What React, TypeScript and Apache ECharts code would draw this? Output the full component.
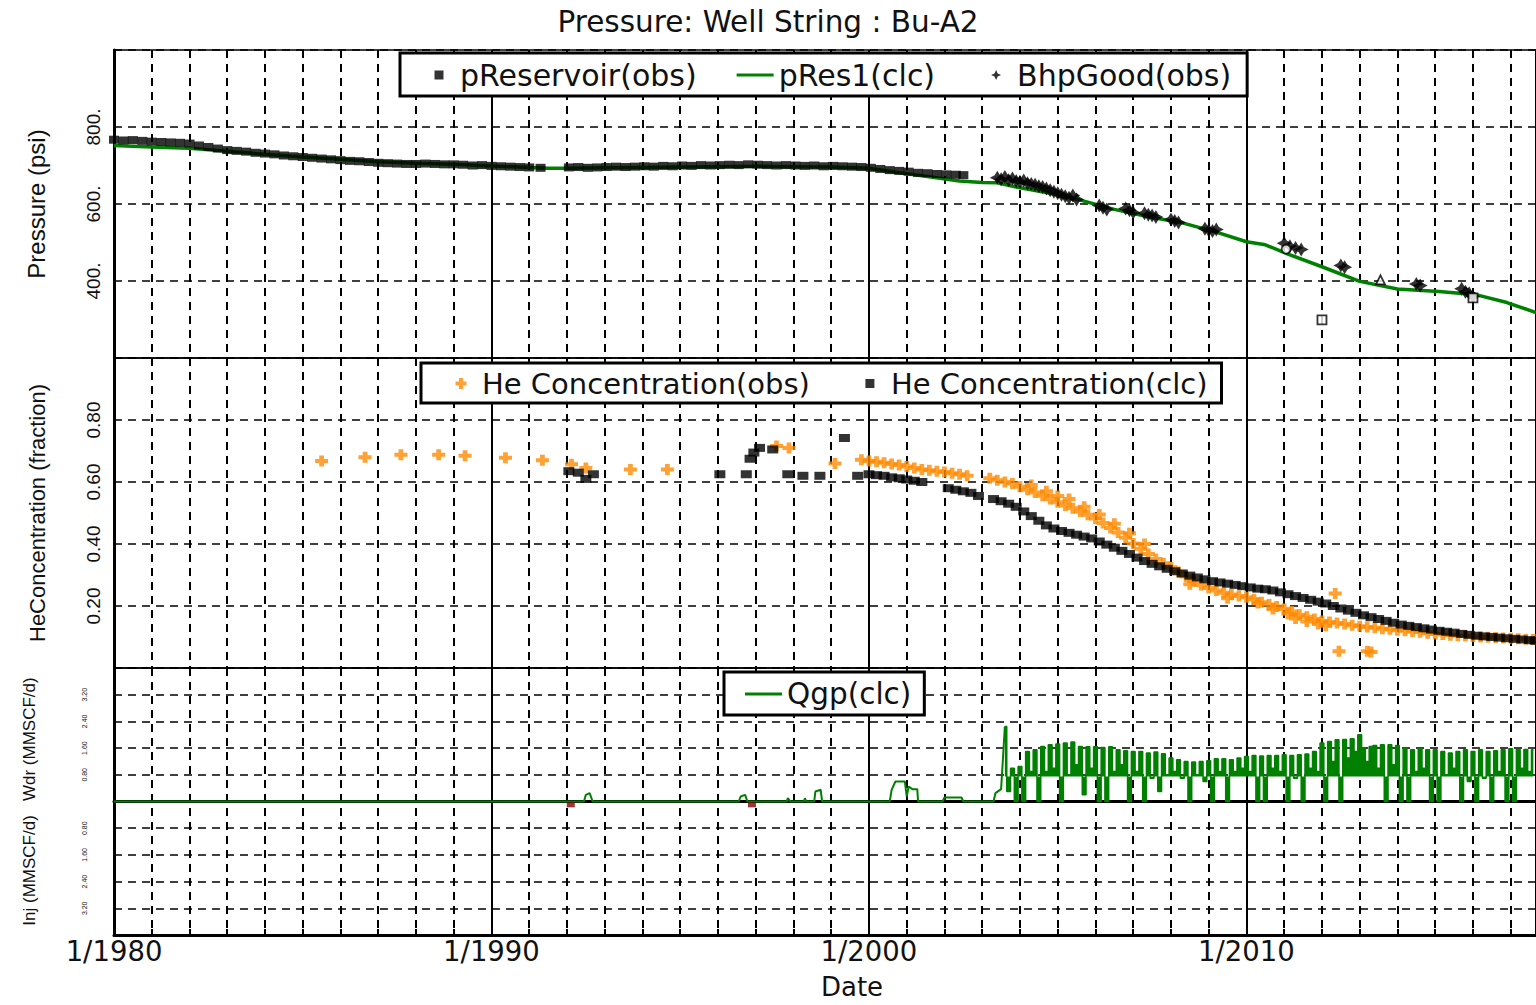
import React, { useEffect, useRef } from "react";
import * as echarts from "echarts";

// ---------- axis ranges & tick labels ----------
const xMin = 1980;
const xMax = 2017.67;
const pressureTicks = [400, 600, 800];
const heTicks = [0.2, 0.4, 0.6, 0.8];
const rateTicks = [0.8, 1.6, 2.4, 3.2];

// ---------- top panel: pressure (psi) ----------
const pReservoirObs = [
  [1980.0, 767], [1980.25, 765], [1980.5, 766], [1980.75, 764], [1981.0, 762], [1981.25, 761], [1981.5, 760], [1981.75, 759],
  [1982.0, 757], [1982.25, 752], [1982.5, 748], [1982.75, 744], [1983.0, 740], [1983.25, 738], [1983.5, 736], [1983.75, 733],
  [1984.0, 731], [1984.25, 729], [1984.5, 726], [1984.75, 724], [1985.0, 722], [1985.25, 720], [1985.5, 718], [1985.75, 716],
  [1986.0, 714], [1986.25, 712], [1986.5, 711], [1986.75, 709], [1987.0, 707], [1987.25, 706], [1987.5, 705], [1987.75, 704],
  [1988.0, 704], [1988.25, 705], [1988.5, 704], [1988.75, 703], [1989.0, 703], [1989.25, 702], [1989.5, 700], [1989.75, 701],
  [1990.0, 699], [1990.25, 698], [1990.5, 697], [1990.75, 696], [1991.0, 695], [1991.3, 694],
  [1992.05, 695], [1992.3, 696], [1992.55, 694], [1992.8, 695], [1993.05, 696], [1993.3, 697], [1993.55, 696], [1993.8, 697],
  [1994.05, 698], [1994.3, 697], [1994.55, 699], [1994.8, 698], [1995.05, 700], [1995.3, 699], [1995.55, 701], [1995.8, 700],
  [1996.05, 701], [1996.3, 702], [1996.55, 701], [1996.8, 703], [1997.05, 702], [1997.3, 701], [1997.55, 700], [1997.8, 701],
  [1998.05, 700], [1998.3, 699], [1998.55, 700], [1998.8, 698], [1999.05, 699], [1999.3, 698], [1999.55, 697], [1999.8, 696],
  [2000.05, 694], [2000.3, 691], [2000.55, 688], [2000.8, 686], [2001.05, 684], [2001.3, 681], [2001.55, 680], [2001.8, 678],
  [2002.05, 677], [2002.3, 676], [2002.5, 675],
];

const pRes1Clc = [
  [1980, 752], [1981, 748], [1982, 745], [1983, 737], [1984, 729], [1985, 722], [1986, 716], [1987, 710], [1988, 706],
  [1989, 703], [1990, 699], [1991, 695], [1991.5, 693], [1992, 693], [1993, 694], [1994, 695], [1995, 696], [1996, 697],
  [1997, 698], [1998, 697], [1999, 696], [2000, 693], [2000.8, 681], [2001.5, 672], [2002.4, 660], [2003.0, 656],
  [2003.4, 655], [2003.9, 644], [2004.8, 628], [2005.6, 610], [2006.5, 586], [2007.4, 567], [2008.3, 551], [2009.2, 527],
  [2010.0, 502], [2010.5, 494], [2011.1, 470], [2012.0, 437], [2013.0, 399], [2014.0, 379], [2015.1, 373], [2016.1, 364],
  [2016.9, 344], [2017.67, 318],
];

const bhpGoodObs = [
  [2003.4, 668], [2003.5, 664], [2003.6, 670], [2003.7, 662], [2003.8, 666], [2003.9, 660], [2004.0, 658], [2004.1, 661],
  [2004.2, 654], [2004.3, 652], [2004.4, 650], [2004.5, 646], [2004.6, 644], [2004.7, 640], [2004.8, 636], [2004.9, 632],
  [2005.0, 628], [2005.1, 624], [2005.2, 620], [2005.3, 616], [2005.4, 622], [2005.5, 612],
  [2006.1, 596], [2006.2, 590], [2006.3, 586], [2006.8, 588], [2006.9, 584], [2007.0, 578], [2007.3, 576], [2007.4, 572],
  [2007.5, 570], [2007.6, 566], [2008.0, 560], [2008.1, 556], [2008.2, 552], [2008.9, 536], [2009.0, 532], [2009.1, 530],
  [2009.2, 534], [2011.0, 498], [2011.15, 490], [2011.3, 486], [2011.45, 482], [2012.5, 440], [2012.6, 436], [2014.5, 392],
  [2014.6, 388], [2015.7, 380], [2015.8, 372], [2015.9, 368], [2016.0, 360],
];

const otherPressureObs = [[2011.05, 483], [2012.0, 299], [2013.55, 403], [2016.0, 356]];
const otherPressureShapes = ["circle", "rect", "triangle", "rect"];

// ---------- middle panel: He concentration (fraction) ----------
const heObs = [
  [1985.5, 0.668], [1986.65, 0.68], [1987.6, 0.688], [1988.6, 0.688], [1989.3, 0.685], [1990.37, 0.678], [1991.35, 0.67],
  [1992.12, 0.657], [1992.5, 0.645], [1993.68, 0.64], [1994.66, 0.64], [1997.55, 0.716], [1997.88, 0.71], [1999.1, 0.66],
  [1999.8, 0.672],
  [2000.0, 0.668], [2000.2, 0.665], [2000.4, 0.662], [2000.6, 0.658], [2000.8, 0.655], [2001.0, 0.65], [2001.2, 0.645],
  [2001.4, 0.64], [2001.6, 0.638], [2001.8, 0.635], [2002.0, 0.632], [2002.2, 0.628], [2002.4, 0.625], [2002.6, 0.62],
  [2003.2, 0.612], [2003.4, 0.606], [2003.6, 0.6], [2003.8, 0.595], [2004.0, 0.585], [2004.2, 0.575], [2004.4, 0.566],
  [2004.6, 0.556], [2004.8, 0.545], [2005.0, 0.535], [2005.2, 0.524], [2005.4, 0.515], [2005.6, 0.505], [2005.8, 0.494],
  [2006.0, 0.482], [2006.2, 0.468], [2006.4, 0.452], [2006.6, 0.437], [2006.8, 0.42], [2007.0, 0.402], [2007.2, 0.385],
  [2007.4, 0.368], [2007.6, 0.352], [2007.8, 0.338], [2008.0, 0.325], [2008.2, 0.31], [2008.4, 0.295], [2008.6, 0.28],
  [2008.8, 0.268], [2009.0, 0.258], [2009.2, 0.25], [2009.4, 0.243], [2009.6, 0.237], [2009.8, 0.232], [2010.0, 0.228],
  [2010.2, 0.222], [2010.4, 0.212], [2010.6, 0.205], [2010.8, 0.198], [2011.0, 0.19], [2011.2, 0.182], [2011.4, 0.172],
  [2011.6, 0.165], [2011.8, 0.158], [2012.0, 0.152], [2012.2, 0.148], [2012.4, 0.145], [2012.6, 0.142], [2012.8, 0.138],
  [2013.0, 0.135], [2013.2, 0.132], [2013.4, 0.13], [2013.6, 0.127], [2013.8, 0.125], [2014.0, 0.122], [2014.2, 0.12],
  [2014.4, 0.118], [2014.6, 0.115], [2014.8, 0.112], [2015.0, 0.11], [2015.2, 0.108], [2015.4, 0.106], [2015.6, 0.104],
  [2015.8, 0.103], [2016.0, 0.102], [2016.2, 0.1], [2016.4, 0.099], [2016.6, 0.098], [2016.8, 0.097], [2017.0, 0.096],
  [2017.2, 0.094], [2017.4, 0.093], [2017.6, 0.092],
  [2004.3, 0.59], [2004.7, 0.57], [2005.0, 0.555], [2005.3, 0.545], [2005.7, 0.52], [2006.1, 0.495], [2006.5, 0.465],
  [2006.9, 0.435], [2007.3, 0.4], [2008.5, 0.27], [2009.5, 0.225], [2010.3, 0.21], [2010.7, 0.19], [2011.1, 0.175],
  [2011.3, 0.16], [2011.6, 0.15], [2011.9, 0.142], [2012.1, 0.136],
  [2012.35, 0.24], [2012.45, 0.054], [2013.2, 0.054], [2013.3, 0.052],
];

const heClc = [
  [1992.05, 0.635], [1992.3, 0.63], [1992.5, 0.61], [1992.7, 0.625], [1996.05, 0.625], [1996.75, 0.625], [1996.85, 0.675],
  [1996.95, 0.695], [1997.1, 0.71], [1997.45, 0.705], [1997.85, 0.625], [1998.25, 0.62], [1998.7, 0.62], [1999.35, 0.742],
  [1999.7, 0.62],
  [2000.0, 0.625], [2000.2, 0.622], [2000.4, 0.62], [2000.6, 0.615], [2000.8, 0.612], [2001.0, 0.608], [2001.2, 0.604],
  [2001.4, 0.6], [2002.1, 0.58], [2002.3, 0.575], [2002.5, 0.57], [2002.7, 0.565], [2002.9, 0.555], [2003.3, 0.545],
  [2003.5, 0.538], [2003.7, 0.53], [2003.9, 0.52], [2004.1, 0.505], [2004.3, 0.49], [2004.5, 0.475], [2004.7, 0.46],
  [2004.9, 0.45], [2005.1, 0.442], [2005.3, 0.436], [2005.5, 0.43], [2005.7, 0.424], [2005.9, 0.418], [2006.1, 0.408],
  [2006.3, 0.398], [2006.5, 0.388], [2006.7, 0.378], [2006.9, 0.368], [2007.1, 0.356], [2007.3, 0.345], [2007.5, 0.336],
  [2007.7, 0.328], [2007.9, 0.32], [2008.1, 0.312], [2008.3, 0.305], [2008.5, 0.298], [2008.7, 0.292], [2008.9, 0.286],
  [2009.1, 0.28], [2009.3, 0.276], [2009.5, 0.272], [2009.7, 0.268], [2009.9, 0.264], [2010.1, 0.26], [2010.3, 0.256],
  [2010.5, 0.254], [2010.7, 0.25], [2010.9, 0.244], [2011.1, 0.238], [2011.3, 0.232], [2011.5, 0.226], [2011.7, 0.22],
  [2011.9, 0.214], [2012.1, 0.208], [2012.3, 0.2], [2012.5, 0.192], [2012.7, 0.185], [2012.9, 0.178], [2013.1, 0.17],
  [2013.3, 0.164], [2013.5, 0.158], [2013.7, 0.152], [2013.9, 0.146], [2014.1, 0.14], [2014.3, 0.136], [2014.5, 0.132],
  [2014.7, 0.128], [2014.9, 0.124], [2015.1, 0.12], [2015.3, 0.117], [2015.5, 0.114], [2015.7, 0.11], [2015.9, 0.107],
  [2016.1, 0.104], [2016.3, 0.102], [2016.5, 0.1], [2016.7, 0.098], [2016.9, 0.096], [2017.1, 0.094], [2017.3, 0.092],
  [2017.5, 0.09], [2017.65, 0.088],
];

// ---------- bottom panel: rates (MMSCF/d) ----------
const qgpEarly = [
  [1980, 0], [1992.45, 0], [1992.5, 0.2], [1992.6, 0.25], [1992.68, 0], [1996.55, 0], [1996.6, 0.15], [1996.72, 0.2],
  [1996.78, 0], [1997.82, 0], [1997.85, 0.1], [1997.92, 0], [1998.28, 0], [1998.3, 0.1], [1998.34, 0], [1998.55, 0],
  [1998.58, 0.3], [1998.72, 0.35], [1998.76, 0], [2000.55, 0], [2000.6, 0.35], [2000.7, 0.6], [2000.95, 0.6],
  [2001.0, 0.15], [2001.05, 0.45], [2001.15, 0.37], [2001.28, 0.37], [2001.3, 0], [2001.95, 0], [2002.0, 0.12],
  [2002.45, 0.12], [2002.5, 0], [2003.3, 0], [2003.35, 0.25], [2003.5, 0.37], [2003.6, 2.25],
];
const qgpDenseStart = 2003.6;
const qgpDenseStep = 0.1;
const qgpDense = [
  2.25, 0.3, 1.0, 0.0, 1.05, 0.0, 1.5, 0.9, 1.55, 0.0, 1.65, 0.9, 1.7, 1.0, 1.72, 0.0, 1.75, 0.8, 1.78, 1.1,
  1.65, 0.2, 1.64, 1.0, 1.64, 0.0, 1.62, 0.0, 1.64, 0.9, 1.55, 1.1, 1.52, 0.0, 1.5, 0.9, 1.5, 0.0, 1.45, 0.7,
  1.48, 0.3, 1.43, 0.8, 1.3, 0.9, 1.25, 0.7, 1.2, 0.0, 1.18, 0.8, 1.2, 0.6, 1.22, 0.0, 1.28, 0.9, 1.28, 0.0,
  1.25, 0.9, 1.3, 1.0, 1.35, 0.9, 1.38, 0.0, 1.36, 0.0, 1.38, 1.0, 1.38, 0.9, 1.4, 0.0, 1.38, 0.7, 1.4, 0.0,
  1.42, 1.0, 1.5, 0.9, 1.75, 0.0, 1.8, 1.2, 1.85, 0.0, 1.86, 1.3, 1.88, 1.5, 2.0, 1.6, 1.2, 1.65, 1.68, 1.0,
  1.7, 0.0, 1.7, 1.1, 1.68, 0.0, 1.6, 0.0, 1.55, 0.9, 1.58, 1.0, 1.55, 0.0, 1.55, 0.0, 1.5, 0.8, 1.45, 1.0,
  1.5, 0.0, 1.55, 0.6, 1.5, 0.0, 1.55, 0.7, 1.5, 0.0, 1.52, 0.9, 1.55, 0.0, 1.58, 0.0, 1.56, 1.0, 1.56, 0.9,
  1.55,
];
const qgiClc = [[1992.1, -0.1], [1996.9, -0.1]];

// ---------- symbols ----------
// Legend icons share a 37x11 frame (tiny corner dots) so the marker sits 21px before the text.
const FRAME = "M0,0h0.01v0.01h-0.01z M36.99,10.99h0.01v0.01h-0.01z ";
const LEG_SQUARE = "path://" + FRAME + "M16.5,1h9v9h-9z";
const LEG_PLUS = "path://" + FRAME + "M19,0h4v3.5h3.5v4h-3.5v3.5h-4v-3.5h-3.5v-4h3.5z";
const LEG_STAR = "path://" + FRAME + "M21,0.5L22.6,3.9L26,5.5L22.6,7.1L21,10.5L19.4,7.1L16,5.5L19.4,3.9Z";
const LEG_LINE = "path://" + FRAME + "M0,4h37v3h-37z";
const PLUS = "path://M3.5,0h4v3.5h3.5v4h-3.5v3.5h-4v-3.5h-3.5v-4h3.5z";
const STAR = "path://M5,0L6.8,3.2L10,5L6.8,6.8L5,10L3.2,6.8L0,5L3.2,3.2Z";

const GREEN = "#008000";
const ORANGE = "#ff8a00";
const DASH = [8, 6];

function yearAxis(gridIndex: number, bottom: boolean) {
  return {
    type: "value",
    gridIndex,
    min: xMin,
    max: xMax,
    interval: 1,
    position: "bottom",
    axisLine: { show: bottom, onZero: false, lineStyle: { color: "#000", width: 3 } },
    axisTick: { show: bottom, inside: true, length: 6, lineStyle: { color: "#000", width: 2 } },
    axisLabel: {
      show: bottom,
      margin: 2,
      fontFamily: "DejaVu Sans",
      fontSize: 27.5,
      color: "#111",
      showMaxLabel: false,
      formatter: (v: number) => (Math.abs(v % 10) < 1e-6 ? "1/" + Math.round(v) : ""),
    },
    splitLine: { show: true, lineStyle: { color: "#000", type: DASH, width: 2 } },
  };
}

function decadeAxis(gridIndex: number, zeroLine: boolean) {
  return {
    type: "value",
    gridIndex,
    min: xMin,
    max: xMax,
    interval: 10,
    position: "top",
    axisLine: { show: zeroLine, onZero: true, lineStyle: { color: "#000", width: 3 } },
    axisTick: { show: false },
    axisLabel: { show: false },
    splitLine: { show: true, lineStyle: { color: "#000", type: "solid", width: 2 } },
  };
}

function yAxisBase(gridIndex: number, min: number, max: number, interval: number) {
  return {
    type: "value",
    gridIndex,
    min,
    max,
    interval,
    nameLocation: "middle",
    axisLine: { show: true, onZero: false, lineStyle: { color: "#000", width: 3 } },
    axisTick: { show: false },
    splitLine: { show: true, lineStyle: { color: "#000", type: DASH, width: 1.5 } },
  };
}

function legendBase(fontSize: number) {
  return {
    orient: "horizontal",
    selectedMode: false,
    backgroundColor: "#fff",
    borderColor: "#000",
    borderWidth: 3,
    borderRadius: 0,
    itemWidth: 37,
    itemHeight: 11,
    textStyle: { fontFamily: "DejaVu Sans", fontSize, color: "#111", lineHeight: 28 },
  };
}

export default function App() {
  const ref = useRef<HTMLDivElement>(null);

  useEffect(() => {
    if (!ref.current) return;
    const chart = echarts.init(ref.current, undefined, { renderer: "svg" });

    const option = {
      animation: false,
      backgroundColor: "#fff",
      textStyle: { fontFamily: "Liberation Sans" },
      title: {
        text: "Pressure: Well String : Bu-A2",
        left: "center",
        top: 2,
        textStyle: { fontFamily: "DejaVu Sans", fontSize: 29.5, fontWeight: "normal", color: "#111" },
      },
      graphic: [
        {
          type: "text",
          x: 852,
          y: 987,
          style: {
            text: "Date",
            fontFamily: "DejaVu Sans",
            fontSize: 26,
            fill: "#111",
            textAlign: "center",
            textVerticalAlign: "middle",
            align: "center",
            verticalAlign: "middle",
          },
        },
      ],
      legend: [
        {
          ...legendBase(30),
          left: 400,
          top: 53,
          padding: [7, 16, 6, 18],
          itemGap: 40,
          data: [
            { name: "pReservoir(obs)", icon: LEG_SQUARE },
            { name: "pRes1(clc)", icon: LEG_LINE },
            { name: "BhpGood(obs)", icon: LEG_STAR },
          ],
        },
        {
          ...legendBase(29),
          left: 421,
          top: 363,
          padding: [6, 14, 5, 19],
          itemGap: 39,
          data: [
            { name: "He Concentration(obs)", icon: LEG_PLUS },
            { name: "He Concentration(clc)", icon: LEG_SQUARE },
          ],
        },
        {
          ...legendBase(29.5),
          left: 724,
          top: 672,
          padding: [7, 13, 6, 21],
          data: [{ name: "Qgp(clc)", icon: LEG_LINE }],
        },
      ],
      grid: [
        { left: 114, top: 50, width: 1424, height: 308, show: true, borderColor: "#000", borderWidth: 1.5 },
        { left: 114, top: 358, width: 1424, height: 310, show: true, borderColor: "#000", borderWidth: 1.5 },
        { left: 114, top: 668, width: 1424, height: 267, show: true, borderColor: "#000", borderWidth: 1.5 },
      ],
      xAxis: [yearAxis(0, false), decadeAxis(0, false), yearAxis(1, false), decadeAxis(1, false), yearAxis(2, true), decadeAxis(2, true)],
      yAxis: [
        {
          ...yAxisBase(0, 200, 1000, 200),
          name: "Pressure (psi)",
          nameGap: 66,
          nameTextStyle: { fontFamily: "Liberation Sans", fontSize: 24, color: "#111" },
          axisLabel: {
            rotate: 90,
            margin: 11,
            fontFamily: "Liberation Sans",
            fontSize: 19,
            color: "#111",
            formatter: (v: number) => (pressureTicks.some((t) => Math.abs(t - v) < 1e-6) ? v + "." : ""),
          },
        },
        {
          ...yAxisBase(1, 0, 1, 0.2),
          name: "HeConcentration (fraction)",
          nameGap: 66,
          nameTextStyle: { fontFamily: "Liberation Sans", fontSize: 22, color: "#111" },
          axisLabel: {
            rotate: 90,
            margin: 11,
            fontFamily: "Liberation Sans",
            fontSize: 19,
            color: "#111",
            formatter: (v: number) => (heTicks.some((t) => Math.abs(t - v) < 1e-6) ? v.toFixed(2) : ""),
          },
        },
        {
          ...yAxisBase(2, -4, 4, 0.8),
          name: "Inj (MMSCF/d)   Wdr (MMSCF/d)",
          nameGap: 76,
          nameTextStyle: { fontFamily: "Liberation Sans", fontSize: 17, color: "#111" },
          axisLabel: {
            rotate: 90,
            margin: 26,
            fontFamily: "Liberation Sans",
            fontSize: 7,
            color: "#111",
            formatter: (v: number) => {
              const a = Math.abs(v);
              return rateTicks.some((t) => Math.abs(t - a) < 1e-6) ? a.toFixed(2) : "";
            },
          },
        },
      ],
      series: [
        {
          name: "pRes1(clc)",
          type: "line",
          xAxisIndex: 0,
          yAxisIndex: 0,
          data: pRes1Clc,
          symbol: "none",
          color: GREEN,
          lineStyle: { color: GREEN, width: 3.5 },
          z: 2,
        },
        {
          name: "pReservoir(obs)",
          type: "scatter",
          xAxisIndex: 0,
          yAxisIndex: 0,
          data: pReservoirObs,
          symbol: "rect",
          symbolSize: [10, 8],
          itemStyle: { color: "#000" },
          z: 3,
        },
        {
          name: "BhpGood(obs)",
          type: "scatter",
          xAxisIndex: 0,
          yAxisIndex: 0,
          data: bhpGoodObs,
          symbol: STAR,
          symbolSize: [15, 14],
          itemStyle: { color: "#000" },
          z: 3,
        },
        {
          name: "pOther(obs)",
          type: "scatter",
          xAxisIndex: 0,
          yAxisIndex: 0,
          data: otherPressureObs.map((p, i) => ({ value: p, symbol: otherPressureShapes[i] })),
          symbolSize: 9,
          itemStyle: { color: "#fff", borderColor: "#000", borderWidth: 1.8 },
          z: 4,
        },
        {
          name: "He Concentration(obs)",
          type: "scatter",
          xAxisIndex: 2,
          yAxisIndex: 1,
          data: heObs,
          symbol: PLUS,
          symbolSize: [13, 11],
          itemStyle: { color: ORANGE },
          z: 3,
        },
        {
          name: "He Concentration(clc)",
          type: "scatter",
          xAxisIndex: 2,
          yAxisIndex: 1,
          data: heClc,
          symbol: "rect",
          symbolSize: [11, 8],
          itemStyle: { color: "#000" },
          z: 4,
        },
        {
          name: "Qgp(clc)",
          type: "line",
          xAxisIndex: 4,
          yAxisIndex: 2,
          data: qgpEarly,
          symbol: "none",
          color: GREEN,
          lineStyle: { color: GREEN, width: 2 },
          z: 3,
        },
        {
          name: "Qgp(clc)",
          type: "line",
          xAxisIndex: 4,
          yAxisIndex: 2,
          data: qgpDense.map((v, i) => [qgpDenseStart + i * qgpDenseStep, v]),
          symbol: "none",
          step: "middle",
          color: GREEN,
          lineStyle: { color: GREEN, width: 1.5 },
          areaStyle: { color: GREEN, opacity: 1, origin: 0.75 },
          z: 3,
        },
        {
          name: "Qgi(clc)",
          type: "scatter",
          xAxisIndex: 4,
          yAxisIndex: 2,
          data: qgiClc,
          symbol: "rect",
          symbolSize: [8, 5],
          itemStyle: { color: "#8b0000" },
          z: 3,
        },
      ],
    };

    chart.setOption(option as any);
    return () => chart.dispose();
  }, []);

  return (
    <div
      ref={ref}
      style={{ position: "fixed", left: 0, top: 0, width: 1536, height: 1005, background: "#fff" }}
    />
  );
}
